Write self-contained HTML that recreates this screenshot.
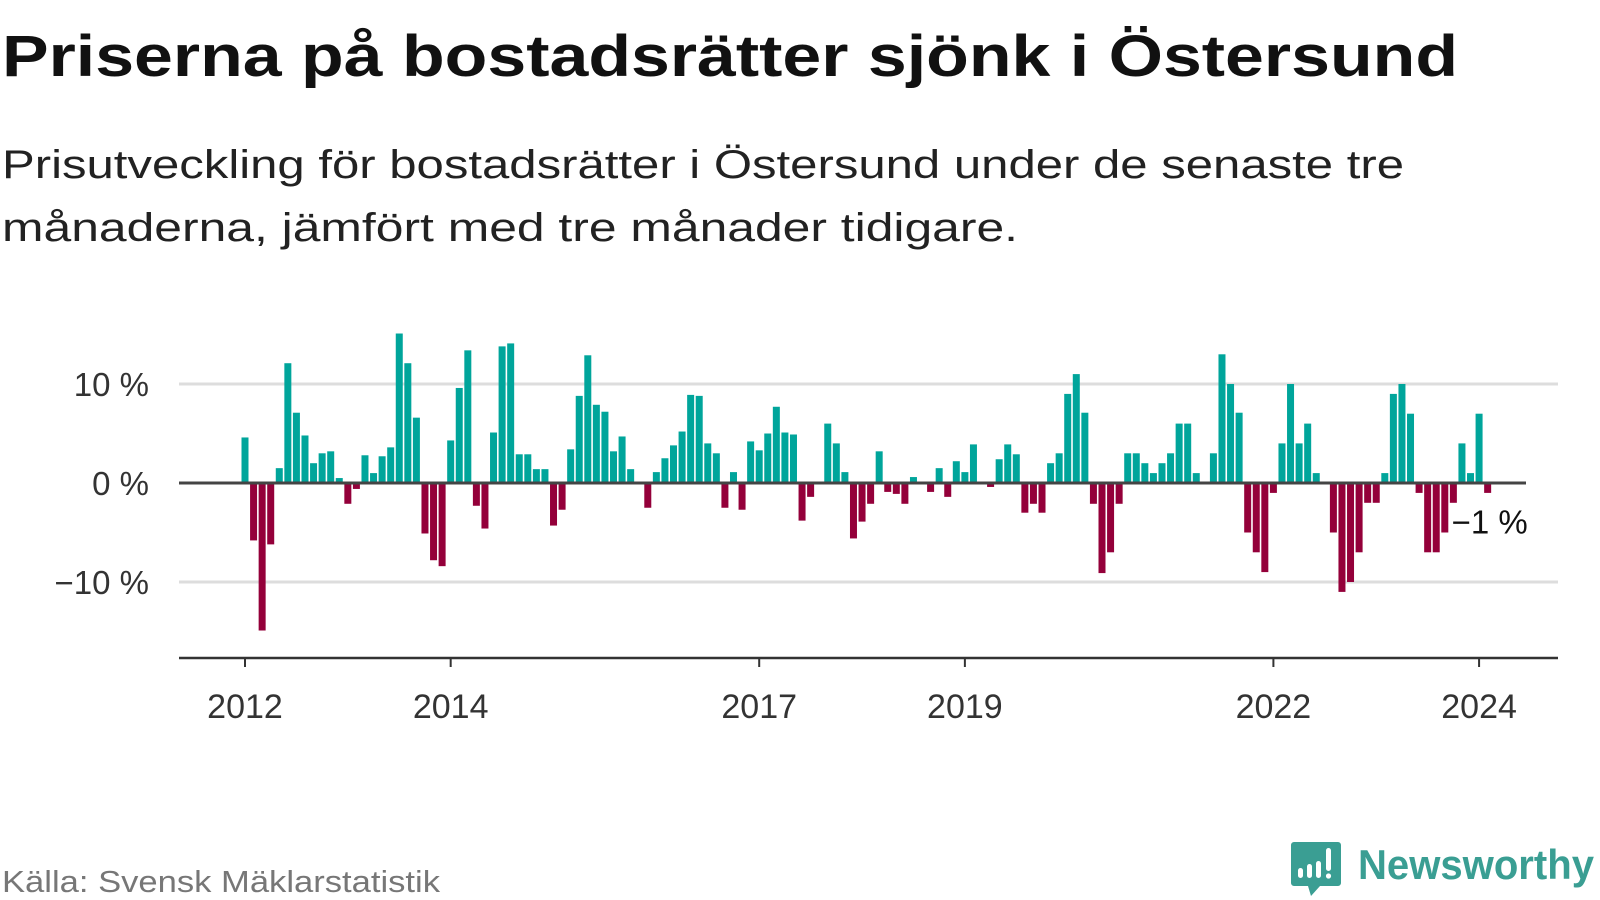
<!DOCTYPE html>
<html><head><meta charset="utf-8"><style>
html,body{margin:0;padding:0;background:#fff;}
svg{display:block;font-family:"Liberation Sans",sans-serif;}
</style></head><body>
<svg id="chart" width="1600" height="900" viewBox="0 0 1600 900" xmlns="http://www.w3.org/2000/svg">
<text x="2" y="76" font-size="58" font-weight="bold" fill="#111" textLength="1456" lengthAdjust="spacingAndGlyphs">Priserna på bostadsrätter sjönk i Östersund</text>
<text x="2" y="178" font-size="40" fill="#222" textLength="1402" lengthAdjust="spacingAndGlyphs">Prisutveckling för bostadsrätter i Östersund under de senaste tre</text>
<text x="2" y="241" font-size="40" fill="#222" textLength="1016" lengthAdjust="spacingAndGlyphs">månaderna, jämfört med tre månader tidigare.</text>
<g id="grid"></g>
<g id="bars"></g>
<g id="axes"></g>
<text x="2" y="892" font-size="31" fill="#777" textLength="438" lengthAdjust="spacingAndGlyphs">Källa: Svensk Mäklarstatistik</text>
<g>
  <path d="M1294 842 h44 a3 3 0 0 1 3 3 v38 a3 3 0 0 1 -3 3 h-18 l-9 10 l-3 -10 h-14 a3 3 0 0 1 -3 -3 v-38 a3 3 0 0 1 3 -3z" fill="#3a9e93"/>
  <rect x="1298" y="868" width="5" height="10" rx="2.5" fill="#fff"/>
  <rect x="1307" y="864" width="5" height="14" rx="2.5" fill="#fff"/>
  <rect x="1316" y="861" width="5" height="17" rx="2.5" fill="#fff"/>
  <rect x="1326" y="848" width="5" height="23" rx="2.5" fill="#fff"/>
  <circle cx="1328.5" cy="876" r="2.6" fill="#fff"/>
  <text x="1358" y="879" font-size="42" font-weight="bold" fill="#3a9e93" textLength="236" lengthAdjust="spacingAndGlyphs">Newsworthy</text>
</g>
</svg>
<script>
const values = [4.6,-5.8,-14.9,-6.2,1.5,12.1,7.1,4.8,2.0,3.0,3.2,0.5,
-2.1,-0.6,2.8,1.0,2.7,3.6,15.1,12.1,6.6,-5.1,-7.8,-8.4,
4.3,9.6,13.4,-2.3,-4.6,5.1,13.8,14.1,2.9,2.9,1.4,1.4,
-4.3,-2.7,3.4,8.8,12.9,7.9,7.2,3.2,4.7,1.4,0,-2.5,
1.1,2.5,3.8,5.2,8.9,8.8,4.0,3.0,-2.5,1.1,-2.7,4.2,
3.3,5.0,7.7,5.1,4.9,-3.8,-1.4,0,6.0,4.0,1.1,-5.6,
-3.9,-2.1,3.2,-0.9,-1.1,-2.1,0.6,0,-0.9,1.5,-1.4,2.2,
1.1,3.9,0,-0.4,2.4,3.9,2.9,-3.0,-2.1,-3.0,2.0,3.0,
9.0,11.0,7.1,-2.1,-9.1,-7.0,-2.1,3.0,3.0,2.0,1.0,2.0,
3.0,6.0,6.0,1.0,0,3.0,13.0,10.0,7.1,-5.0,-7.0,-9.0,
-1.0,4.0,10.0,4.0,6.0,1.0,0,-5.0,-11.0,-10.0,-7.0,-2.0,
-2.0,1.0,9.0,10.0,7.0,-1.0,-7.0,-7.0,-5.0,-2.0,4.0,1.0,
7.0,-1.0];
const startYear = 2012;
const yTicks = [-10, 0, 10];
const yTickLabels = ["−10 %", "0 %", "10 %"];
const xTickYears = [2012, 2014, 2017, 2019, 2022, 2024];
const lastLabel = "−1 %";

const NS = "http://www.w3.org/2000/svg";
const x0 = 245, step = 8.57;
const xScale = m => x0 + m * step;
const yScale = v => 483 - v * 9.9;
const mk = (tag, attrs, parent) => { const e = document.createElementNS(NS, tag); for (const k in attrs) e.setAttribute(k, attrs[k]); parent.appendChild(e); return e; };
const grid = document.getElementById('grid'), bars = document.getElementById('bars'), axes = document.getElementById('axes');

yTicks.forEach((t, i) => {
  if (t !== 0) {
    const l = mk('line', {x1: 179, x2: 1558, y1: yScale(t), y2: yScale(t), stroke: '#ddd', 'stroke-width': 3}, grid);
    
    
  }
  const tx = mk('text', {x: 149, y: yScale(t) + 12, 'font-size': 33, fill: '#333', 'text-anchor': 'end'}, axes);
  tx.textContent = yTickLabels[i];
  
  
});

values.forEach((v, i) => {
  if (v === 0) return;
  const x = xScale(i) - 3.5;
  const y = v > 0 ? yScale(v) : yScale(0);
  const r = mk('rect', {x: x, y: y, width: 7, height: Math.abs(yScale(v) - yScale(0)), fill: v > 0 ? '#00a59b' : '#94003a'}, bars);
  
  
});

const zl = mk('line', {x1: 179, x2: 1526, y1: yScale(0), y2: yScale(0), stroke: '#444', 'stroke-width': 3}, axes);



const ax = mk('line', {x1: 179, x2: 1558, y1: 658, y2: 658, stroke: '#333', 'stroke-width': 2.5}, axes);



xTickYears.forEach(yr => {
  const x = xScale((yr - startYear) * 12);
  const tk = mk('line', {x1: x, x2: x, y1: 658, y2: 667, stroke: '#333', 'stroke-width': 2}, axes);
  
  
  const t = mk('text', {x: x, y: 718, 'font-size': 34, fill: '#333', 'text-anchor': 'middle'}, axes);
  t.textContent = String(yr);
  
  
});

const li = values.length - 1;
const lbl = mk('text', {x: xScale(li) - 36, y: yScale(-4) + 11, 'font-size': 33, fill: '#111', stroke: '#fff', 'stroke-width': 6, 'paint-order': 'stroke'}, axes);
lbl.textContent = lastLabel;


</script>
</body></html>
